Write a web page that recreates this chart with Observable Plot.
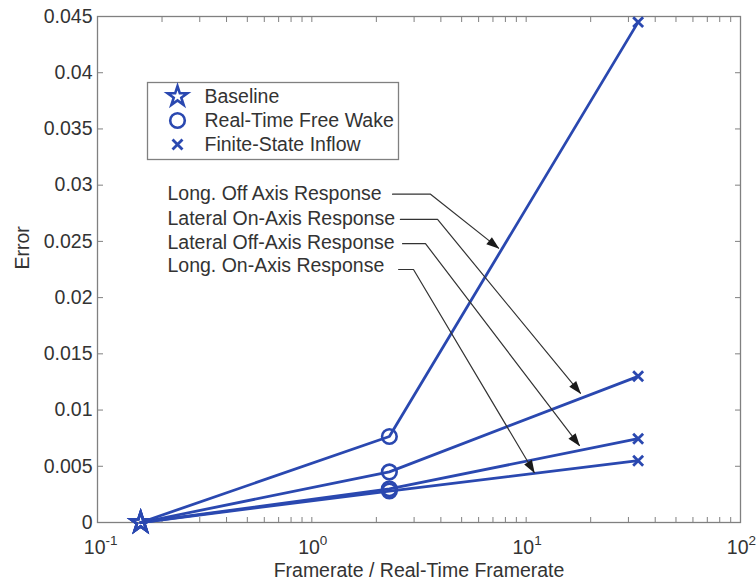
<!DOCTYPE html>
<html>
<head>
<meta charset="utf-8">
<script src="https://cdn.jsdelivr.net/npm/d3@7"></script>
<script src="https://cdn.jsdelivr.net/npm/@observablehq/plot@0.6"></script>
<style>
  html, body { margin: 0; padding: 0; background: #fff; }
  svg { display: block; }
</style>
</head>
<body>
<script>
// ---- data ----
const methods = ["Baseline", "Real-Time Free Wake", "Finite-State Inflow"];
const framerates = [0.159, 2.3, 33.3];
const responses = [
  "Long. Off Axis Response",
  "Lateral On-Axis Response",
  "Lateral Off-Axis Response",
  "Long. On-Axis Response"
];
const errLongOff = [0, 0.00765, 0.0445];
const errLatOn = [0, 0.0045, 0.0130];
const errLatOff = [0, 0.0030, 0.00745];
const errLongOn = [0, 0.0028, 0.0055];

// annotation anchors (data units)
const labelX = [0.212, 0.212, 0.212, 0.212];
const labelY = [0.0292, 0.0270, 0.0249, 0.0228];
const leaderStartX = [2.38, 2.59, 2.65, 2.54];
const leaderElbowX = [3.58, 3.86, 3.39, 2.98];
const leaderY = [0.0292, 0.02695, 0.0248, 0.0225];
const arrowTipX = [7.43, 17.9, 17.7, 10.9];
const arrowTipY = [0.0244, 0.0115, 0.00685, 0.00445];

// ticks
const yTicks = [0, 0.005, 0.01, 0.015, 0.02, 0.025, 0.03, 0.035, 0.04, 0.045];
const xMajorTicks = [0.1, 1, 10, 100];
const xExponents = ["-1", "0", "1", "2"];
const xMinorTicks = [0.2, 0.3, 0.4, 0.5, 0.6, 0.7, 0.8, 0.9,
                     2, 3, 4, 5, 6, 7, 8, 9,
                     20, 30, 40, 50, 60, 70, 80, 90];

// ---- tables ----
const seriesErrors = [errLongOff, errLatOn, errLatOff, errLongOn];
const rows = [];
responses.forEach((r, i) => {
  framerates.forEach((f, j) => rows.push({response: r, method: methods[j], framerate: f, error: seriesErrors[i][j]}));
});
const leaders = [];
responses.forEach((r, i) => {
  leaders.push({id: i, x: leaderStartX[i], y: leaderY[i]});
  leaders.push({id: i, x: leaderElbowX[i], y: leaderY[i]});
  leaders.push({id: i, x: arrowTipX[i], y: arrowTipY[i]});
});
const labels = responses.map((r, i) => ({text: r, x: labelX[i], y: labelY[i]}));
const allXTicks = xMajorTicks.concat(xMinorTicks);

const blue = "#2a48b0";
const axisGray = "#808080";
const textColor = "#333333";
const fs = 19.5;
const symbols = {"Baseline": "star", "Real-Time Free Wake": "circle", "Finite-State Inflow": "times"};
const symbolR = {"Baseline": 6.2, "Real-Time Free Wake": 7.3, "Finite-State Inflow": 4.6};
const symbolSW = {"Baseline": 2.6, "Real-Time Free Wake": 2.6, "Finite-State Inflow": 2.8};

const legendMarks = [];
methods.forEach((m, i) => {
  legendMarks.push(Plot.dot([m], {frameAnchor: "top-left", dx: 80, dy: 80 + i * 24,
    symbol: symbols[m], r: symbolR[m], stroke: blue, strokeWidth: symbolSW[m], fill: "none"}));
  legendMarks.push(Plot.text([m], {frameAnchor: "top-left", dx: 107, dy: 80 + i * 24, lineAnchor: "middle",
    text: d => d, textAnchor: "start", fill: textColor, fontSize: fs}));
});

const pointMarks = methods.map((m) => Plot.dot(rows.filter(d => d.method === m), {
  x: "framerate", y: "error", symbol: symbols[m], r: symbolR[m],
  stroke: blue, strokeWidth: symbolSW[m], fill: "none"
}));

const svg = Plot.plot({
  width: 756,
  height: 585,
  marginLeft: 97,
  marginRight: 16,
  marginTop: 16,
  marginBottom: 63,
  style: {fontFamily: "'Liberation Sans', Arial, Helvetica, sans-serif", fontSize: fs + "px", color: textColor, background: "#fff"},
  x: {type: "log", domain: [0.1, 100]},
  y: {domain: [0, 0.045]},
  marks: [
    // axes ticks (inward)
    Plot.axisY({anchor: "left", ticks: yTicks, tickSize: 6, insetLeft: 6, fill: "none", stroke: axisGray, label: null}),
    Plot.axisY({anchor: "right", ticks: yTicks, tickSize: 6, insetRight: 6, fill: "none", stroke: axisGray, label: null}),
    Plot.axisX({anchor: "bottom", ticks: allXTicks, tickSize: 5, insetBottom: 5, fill: "none", stroke: axisGray, label: null}),
    Plot.axisX({anchor: "top", ticks: allXTicks, tickSize: 5, insetTop: 5, fill: "none", stroke: axisGray, label: null}),
    // tick labels
    Plot.axisY({anchor: "left", ticks: yTicks, tickSize: 0, tickPadding: 5, tickFormat: d3.format("~g"), fill: textColor, fontSize: fs, label: null}),
    Plot.axisX({anchor: "bottom", ticks: xMajorTicks, tickSize: 0, tickPadding: 18, tickFormat: () => "10", textAnchor: "end", dx: 8, fill: textColor, fontSize: fs, label: null}),
    Plot.text(xMajorTicks, {x: d => d, text: (d, i) => xExponents[i], frameAnchor: "bottom", lineAnchor: "middle", dy: 18, dx: 8, textAnchor: "start", fontSize: 13.5, fill: textColor}),
    // axis titles
    Plot.text(["Framerate / Real-Time Framerate"], {frameAnchor: "bottom", lineAnchor: "middle", dy: 48, text: d => d, fill: textColor, fontSize: fs}),
    Plot.text(["Error"], {frameAnchor: "left", dx: -75, rotate: -90, text: d => d, fill: textColor, fontSize: fs}),
    Plot.frame({stroke: axisGray, strokeWidth: 1.3}),
    // data
    Plot.line(rows, {x: "framerate", y: "error", z: "response", stroke: blue, strokeWidth: 2.8}),
    ...pointMarks,
    // annotations
    Plot.line(leaders, {x: "x", y: "y", z: "id", stroke: "#333", strokeWidth: 1.2, markerEnd: "arrow"}),
    Plot.text(labels, {x: "x", y: "y", text: "text", textAnchor: "start", fill: textColor, fontSize: fs}),
    // legend
    Plot.frame({insetLeft: 50, insetTop: 66, insetRight: 342, insetBottom: 363, fill: "#fff", stroke: axisGray, strokeWidth: 1.3}),
    ...legendMarks
  ]
});

// filled arrowheads
svg.querySelectorAll("marker").forEach(m => {
  m.setAttribute("viewBox", "-14 -6 16 12");
  m.setAttribute("markerWidth", "16");
  m.setAttribute("markerHeight", "12");
  m.setAttribute("markerUnits", "userSpaceOnUse");
  m.setAttribute("fill", "#1a1a1a");
  m.setAttribute("stroke", "none");
  const p = m.querySelector("path");
  if (p) p.setAttribute("d", "M1,0L-12,-4.5L-12,4.5Z");
});

document.body.appendChild(svg);
</script>
</body>
</html>
